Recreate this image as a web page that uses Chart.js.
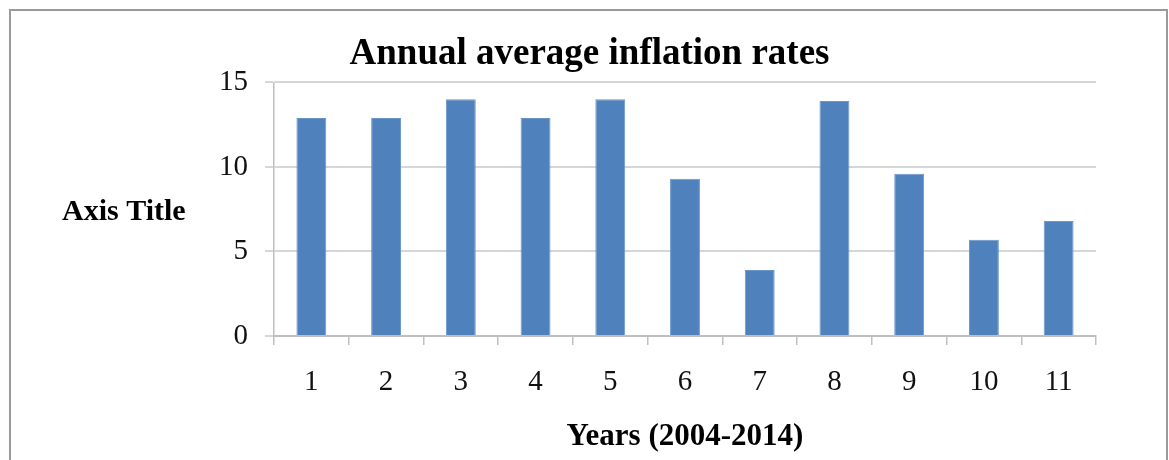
<!DOCTYPE html>
<html>
<head>
<meta charset="utf-8">
<script src="https://cdn.jsdelivr.net/npm/chart.js@4/dist/chart.umd.min.js"></script>
<style>
  html, body { margin: 0; padding: 0; background: #fff; overflow: hidden; }
  #wrap { position: relative; width: 1169px; height: 460px; }
  #frame {
    position: absolute; left: 9px; top: 9px; width: 1155px; height: 480px;
    border: 2px solid #9a9a9a; pointer-events: none;
  }
</style>
</head>
<body>
<div id="wrap">
  <canvas id="myChart" width="1169" height="460"></canvas>
  <div id="frame"></div>
</div>
<script>
const years = ["1", "2", "3", "4", "5", "6", "7", "8", "9", "10", "11"];
const inflation = [12.9, 12.9, 14, 12.9, 14, 9.3, 3.9, 13.9, 9.6, 5.7, 6.8];
const yTicks = [0, 5, 10, 15];

const serif = "'Liberation Serif', 'Times New Roman', serif";

// y axis title sits horizontally to the left, like the spreadsheet chart
const sideTitle = {
  id: "sideTitle",
  afterDraw(chart) {
    const ctx = chart.ctx;
    ctx.save();
    ctx.font = "bold 30px " + serif;
    ctx.fillStyle = "#000";
    ctx.textAlign = "left";
    ctx.textBaseline = "middle";
    ctx.fillText("Axis Title", 62, 212);
    ctx.restore();
  },
};

const ctx = document.getElementById("myChart").getContext("2d");
const myChart = new Chart(ctx, {
  type: "bar",
  data: {
    labels: years,
    datasets: [
      {
        label: "Inflation",
        data: inflation,
        backgroundColor: "#4f81bd",
        borderColor: "#6b95c9",
        borderWidth: 1,
        barPercentage: 0.4,
        categoryPercentage: 1,
      },
    ],
  },
  options: {
    responsive: false,
    animation: false,
    layout: { padding: { left: 10, right: 0, top: 0, bottom: 0 } },
    plugins: {
      legend: { display: false },
      tooltip: { enabled: false },
      title: {
        display: true,
        text: "Annual average inflation rates",
        color: "#000",
        font: { family: serif, size: 37, weight: "bold" },
        padding: { top: 32, bottom: 6 },
      },
    },
    scales: {
      x: {
        afterFit: (scale) => { scale.height = 124; },
        grid: {
          drawOnChartArea: false,
          drawTicks: true,
          tickLength: 9,
          color: "#bfbfbf",
          lineWidth: 1.5,
          offset: true,
        },
        border: { color: "#bfbfbf", width: 2 },
        ticks: {
          color: "#111",
          font: { family: serif, size: 29 },
          padding: 20,
          maxRotation: 0,
        },
        title: {
          display: true,
          text: "Years (2004-2014)",
          color: "#000",
          font: { family: serif, size: 31, weight: "bold" },
          padding: { top: 0, bottom: 4 },
        },
      },
      y: {
        min: 0,
        max: 15,
        afterFit: (scale) => { scale.width = 264; },
        afterBuildTicks: (scale) => {
          scale.ticks = yTicks.map((v) => ({ value: v }));
        },
        grid: {
          color: "#d6d6d6",
          lineWidth: 2,
          tickLength: 9,
          drawTicks: true,
        },
        border: { color: "#bfbfbf", width: 1.5 },
        ticks: {
          color: "#111",
          font: { family: serif, size: 29 },
          padding: 17,
        },
      },
      // empty right-hand gutter so the title centres on the whole frame
      gutter: {
        position: "right",
        min: 0,
        max: 15,
        afterFit: (scale) => { scale.width = 73; },
        grid: { display: false },
        border: { display: false },
        ticks: { display: false },
      },
    },
  },
  plugins: [sideTitle],
});
</script>
</body>
</html>
